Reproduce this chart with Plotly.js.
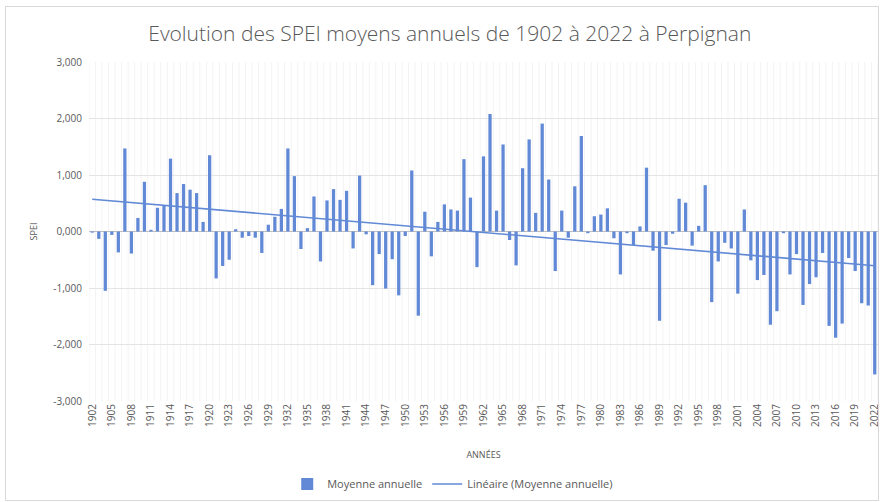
<!DOCTYPE html>
<html>
<head>
<meta charset="utf-8">
<script src="https://cdn.plot.ly/plotly-3.0.1.min.js"></script>
<style>
html,body{margin:0;padding:0;background:#fff;}
#wrap{position:relative;width:882px;height:502px;}
#chart{width:882px;height:502px;}
#frame{position:absolute;left:5px;top:6px;width:872px;height:493px;border:1px solid #d9d9d9;pointer-events:none;}
</style>
</head>
<body>
<div id="wrap"><div id="chart"></div><div id="frame"></div></div>
<script>
// Years 1902..2022
var years = [];
for (var y = 1902; y <= 2022; y++) years.push(y);

// Annual mean SPEI values, 1902..2022
var spei = [
  -0.02, -0.13, -1.05, -0.06, -0.37, 1.47, -0.39, 0.24, 0.88, 0.03,   // 1902-1911
  0.42, 0.46, 1.29, 0.68, 0.84, 0.74, 0.68, 0.17, 1.35, -0.83,       // 1912-1921
  -0.61, -0.50, 0.04, -0.11, -0.08, -0.11, -0.38, 0.12, 0.26, 0.40,  // 1922-1931
  1.47, 0.98, -0.31, 0.06, 0.62, -0.53, 0.55, 0.75, 0.56, 0.72,      // 1932-1941
  -0.30, 0.99, -0.05, -0.95, -0.40, -1.01, -0.49, -1.13, -0.08, 1.08,// 1942-1951
  -1.49, 0.35, -0.44, 0.17, 0.48, 0.39, 0.37, 1.28, 0.60, -0.63,     // 1952-1961
  1.33, 2.08, 0.37, 1.54, -0.15, -0.60, 1.12, 1.63, 0.33, 1.91,      // 1962-1971
  0.92, -0.70, 0.37, -0.11, 0.80, 1.69, -0.03, 0.27, 0.30, 0.41,     // 1972-1981
  -0.12, -0.76, -0.03, -0.24, 0.09, 1.13, -0.34, -1.58, -0.24, -0.04,// 1982-1991
  0.58, 0.51, -0.25, 0.10, 0.82, -1.25, -0.53, -0.20, -0.30, -1.10,  // 1992-2001
  0.39, -0.51, -0.86, -0.77, -1.65, -1.41, -0.03, -0.76, -0.40, -1.30,// 2002-2011
  -0.93, -0.81, -0.38, -1.67, -1.88, -1.63, -0.47, -0.70, -1.27, -1.31,// 2012-2021
  -2.53                                                               // 2022
];

var xTickVals = [];
for (var t = 1902; t <= 2022; t += 3) xTickVals.push(t);
var xTickText = xTickVals.map(String);

var yTickVals = [-3, -2, -1, 0, 1, 2, 3];
var yTickText = ["-3,000", "-2,000", "-1,000", "0,000", "1,000", "2,000", "3,000"];

// Linear trend (least squares) of the series
var n = years.length, sx = 0, sy = 0, sxx = 0, sxy = 0;
for (var i = 0; i < n; i++) { sx += years[i]; sy += spei[i]; sxx += years[i]*years[i]; sxy += years[i]*spei[i]; }
var slope = (n*sxy - sx*sy) / (n*sxx - sx*sx);
var intercept = (sy - slope*sx) / n;
var trend = years.map(function (yr) { return intercept + slope*yr; });

var blue = '#6189d6';
var grey = '#595959';
var font = 'Open Sans, sans-serif';

var data = [
  {type: 'bar', x: years, y: spei, name: 'Moyenne annuelle',
   marker: {color: blue}, hoverinfo: 'x+y'},
  {type: 'scatter', mode: 'lines', x: years, y: trend, name: 'Linéaire (Moyenne annuelle)',
   line: {color: blue, width: 1.6}}
];

var layout = {
  width: 882, height: 502,
  margin: {l: 89, r: 4, t: 62, b: 96},
  paper_bgcolor: '#ffffff', plot_bgcolor: '#ffffff',
  font: {family: font, color: grey, size: 10},
  title: {text: 'Evolution des SPEI moyens annuels de 1902 à 2022 à Perpignan',
          font: {family: font, size: 21, color: grey, weight: 300}, x: 0.51, xanchor: 'center', y: 0.932, yanchor: 'middle'},
  bargap: 0.5,
  showlegend: true,
  legend: {orientation: 'h', x: 0.461, xanchor: 'center', y: -0.245, yanchor: 'middle',
           font: {family: font, size: 11, color: grey}, itemwidth: 30},
  xaxis: {range: [1901.5, 2022.5], tickmode: 'array', tickvals: xTickVals, ticktext: xTickText,
          tickangle: -90, tickfont: {family: font, size: 10, color: grey},
          showgrid: false, zeroline: false, showline: false, ticks: '',
          title: {text: 'ANNÉES', font: {family: font, size: 9, color: grey}, standoff: 25}},
  yaxis: {range: [-3, 3], tickmode: 'array', tickvals: yTickVals, ticktext: yTickText,
          tickfont: {family: font, size: 10, color: grey},
          showgrid: true, gridcolor: '#e4e4e4', gridwidth: 1,
          zeroline: true, zerolinecolor: '#bfbfbf', zerolinewidth: 1.5,
          showline: false, ticks: '', ticklabelstandoff: 6,
          title: {text: 'SPEI', font: {family: font, size: 9, color: grey}, standoff: 14}}
};

// faint vertical category gridlines
var vlines = [];
for (var k = 0; k <= n; k++) {
  vlines.push({type: 'line', xref: 'x', yref: 'paper', x0: 1901.5 + k, x1: 1901.5 + k, y0: 0, y1: 1,
               line: {color: '#f3f3f3', width: 1}, layer: 'below'});
}
layout.shapes = vlines;

Plotly.newPlot('chart', data, layout, {displayModeBar: false, staticPlot: true});
</script>
</body>
</html>
